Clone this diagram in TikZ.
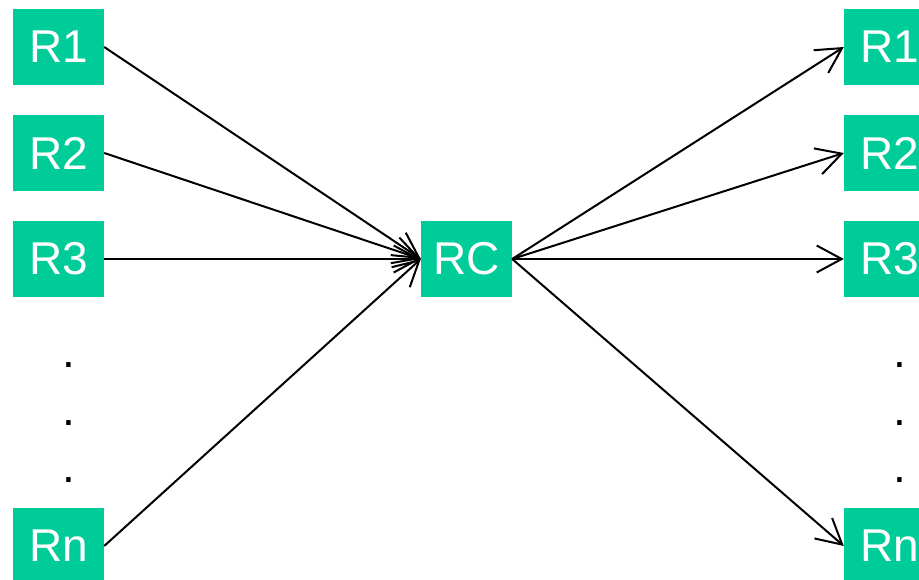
\documentclass[tikz,border=0pt]{standalone}
\usepackage{fontspec}
\setmainfont{Liberation Sans}
\usetikzlibrary{arrows.meta}
\definecolor{boxgreen}{RGB}{0,204,153}

\begin{document}
\begin{tikzpicture}[x=1pt,y=1pt,
                        router/.style={fill=boxgreen,text=white,minimum width=91pt,minimum height=76pt,
                            inner sep=0pt,font=\fontsize{46}{46}\selectfont},
                        gap/.style={inner sep=0pt,font=\fontsize{46}{46}\selectfont},
                        link/.style={line width=2pt,-{Straight Barb[length=25pt,width=27pt,line width=2pt]}}]
                        \clip (0,0) rectangle (919,580);
                        % senders
                        \node[router] (l1) at (58.5,533) {R1};
                        \node[router] (l2) at (58.5,427) {R2};
                        \node[router] (l3) at (58.5,321) {R3};
                        \node[router] (ln) at (58.5,34) {Rn};
                        % hub
                        \node[router] (rc) at (466.5,321) {RC};
                        % receivers
                        \node[router] (r1) at (889.5,533) {R1};
                        \node[router] (r2) at (889.5,427) {R2};
                        \node[router] (r3) at (889.5,321) {R3};
                        \node[router] (rn) at (889.5,34) {Rn};
                        % dots
                        \node[gap] (ld1) at (69,215) {.};
                        \node[gap] (ld2) at (69,157) {.};
                        \node[gap] (ld3) at (69,100) {.};
                        \node[gap] (rd1) at (900,215) {.};
                        \node[gap] (rd2) at (900,157) {.};
                        \node[gap] (rd3) at (900,100) {.};
                        % links
                        \foreach \s in {l1,l2,l3,ln}
                            \draw[link] (\s.east) -- (rc.west);
                        \foreach \t in {r1,r2,r3,rn}
                            \draw[link] (rc.east) -- (\t.west);
                    \end{tikzpicture}
\end{document}
